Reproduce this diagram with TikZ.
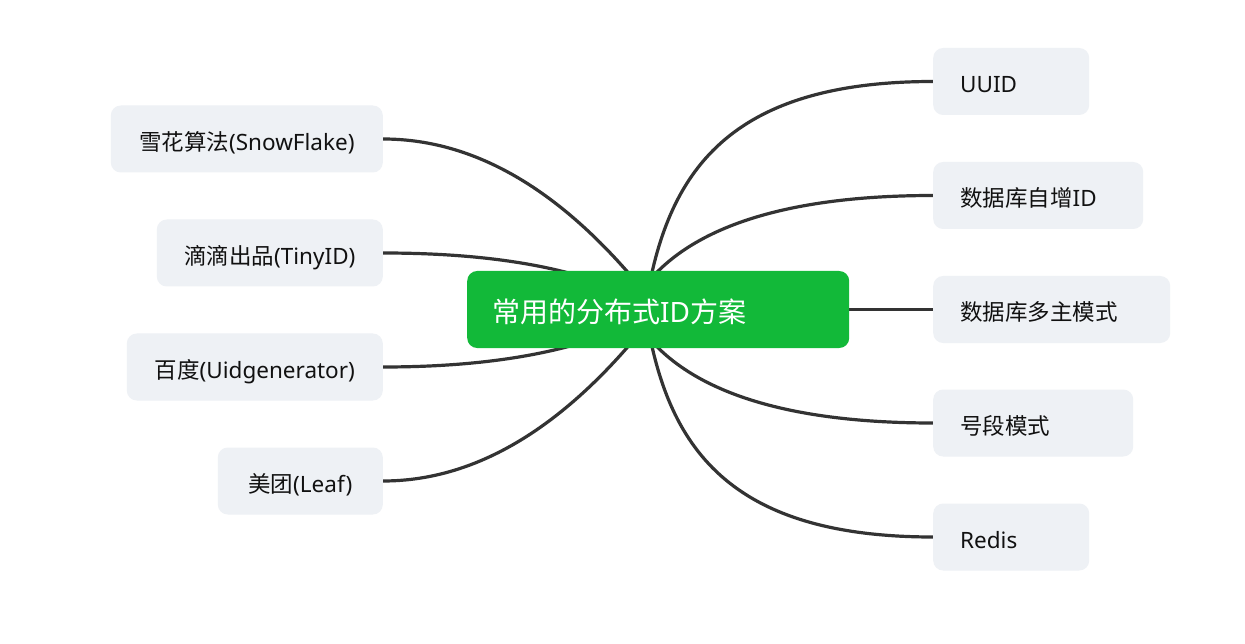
\documentclass[tikz,border=0pt]{standalone}
\usepackage{fontspec}
\setmainfont{Noto Sans}
\newfontfamily\cjk{Noto Sans CJK SC}
\usetikzlibrary{backgrounds}
\definecolor{leafbg}{HTML}{EEF1F5}
\definecolor{rootgreen}{HTML}{12B939}
\definecolor{edgecol}{HTML}{333333}
\definecolor{txtcol}{HTML}{111111}
\begin{document}
\begin{tikzpicture}[x=1pt,y=-1pt,
  leaf/.style={fill=leafbg, rounded corners=10pt, minimum height=67pt, inner ysep=0pt,
    font=\fontsize{22.5}{26}\selectfont, text=txtcol, text height=22.5pt, text depth=0pt},
  leafL/.style={leaf, anchor=east, inner xsep=0pt},
  leafR/.style={leaf, anchor=west, inner xsep=27pt, align=left},
  rootnode/.style={fill=rootgreen, rounded corners=10pt, minimum height=77pt, inner ysep=0pt,
    inner xsep=25pt, anchor=west, align=left, text width=332pt, text=white,
    font=\fontsize{28}{32}\selectfont, text height=26pt, text depth=0pt},
  branch/.style={draw=edgecol, line width=3.2pt}
]
\useasboundingbox (0,0) rectangle (1245,644);

\node[rootnode] (root) at (467,309.5) {{\cjk 常用的分布式}ID{\cjk 方案}};

\node[leafL, minimum width=272pt] (snow) at (383,139) {{\cjk 雪花算法}(SnowFlake)};
\node[leafL, minimum width=226pt] (tiny) at (383,253) {{\cjk 滴滴出品}(TinyID)};
\node[leafL, minimum width=256pt] (baidu) at (383,367) {{\cjk 百度}(Uidgenerator)};
\node[leafL, minimum width=165pt] (meituan) at (383,481) {{\cjk 美团}(Leaf)};

\node[leafR, text width=102pt] (uuid) at (933,81.5) {UUID};
\node[leafR, text width=156pt] (zizeng) at (933,195.5) {{\cjk 数据库自增}ID};
\node[leafR, text width=183pt] (duozhu) at (933,309.5) {{\cjk 数据库多主模式}};
\node[leafR, text width=146pt] (haoduan) at (933,423) {{\cjk 号段模式}};
\node[leafR, text width=102pt] (redis) at (933,537) {Redis};

\coordinate (hubA) at (645,309.5);
\coordinate (hubB) at (630,309.5);

\begin{scope}[on background layer]
\fill[white] (0,0) rectangle (1245,644);
\draw[branch] (snow.east) .. controls (479.7,139) and (571.3,195.7) .. (root.center);
\draw[branch] (tiny.east) .. controls (505,253) and (596.7,271.7) .. (root.center);
\draw[branch] (baidu.east) .. controls (505,367) and (596.7,347.3) .. (root.center);
\draw[branch] (meituan.east) .. controls (479.7,481) and (571.3,423.3) .. (root.center);
\draw[branch] (hubA) .. controls (665,180) and (720,81.5) .. (uuid.west);
\draw[branch] (hubB) .. controls (660,250) and (740,195.5) .. (zizeng.west);
\draw[branch] (root.east) -- (duozhu.west);
\draw[branch] (hubB) .. controls (660,369) and (740,423) .. (haoduan.west);
\draw[branch] (hubA) .. controls (665,439) and (720,537) .. (redis.west);
\end{scope}
\end{tikzpicture}
\end{document}
